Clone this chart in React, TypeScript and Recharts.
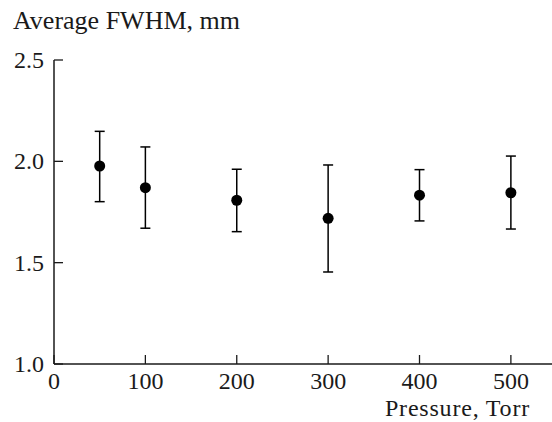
import { ScatterChart, Scatter, XAxis, YAxis, ErrorBar } from "recharts";

const pressures = [50, 100, 200, 300, 400, 500];
const fwhm = [1.977, 1.87, 1.808, 1.719, 1.833, 1.845];
const upper = [2.148, 2.071, 1.961, 1.982, 1.959, 2.026];
const lower = [1.801, 1.67, 1.653, 1.454, 1.706, 1.666];
const xTicks = [0, 100, 200, 300, 400, 500];
const yTicks = [1.0, 1.5, 2.0, 2.5];

const FONT = "'Liberation Serif', 'Times New Roman', serif";
const INK = "#1a1a1a";

const data = pressures.map((p, i) => ({
  p,
  v: fwhm[i],
  err: [fwhm[i] - lower[i], upper[i] - fwhm[i]],
}));

function YTick(props: any) {
  const { x, y, payload } = props;
  return (
    <g>
      <line x1={x} y1={y} x2={x + 9} y2={y} stroke={INK} strokeWidth={1.3} />
      <text
        x={x - 10}
        y={y + 8}
        textAnchor="end"
        fontFamily={FONT}
        fontSize={24}
        fill={INK}
      >
        {Number(payload.value).toFixed(1)}
      </text>
    </g>
  );
}

function XTick(props: any) {
  const { x, y, payload } = props;
  return (
    <g>
      <line x1={x} y1={y} x2={x} y2={y - 9} stroke={INK} strokeWidth={1.3} />
      <text
        x={x}
        y={y + 25}
        textAnchor="middle"
        fontFamily={FONT}
        fontSize={24}
        fill={INK}
      >
        {payload.value}
      </text>
    </g>
  );
}

function Dot(props: any) {
  const { cx, cy } = props;
  return <circle cx={cx} cy={cy} r={5.5} fill="#000" />;
}

export default function App() {
  return (
    <div
      style={{
        position: "absolute",
        left: 0,
        top: 0,
        width: 552,
        height: 422,
        background: "#fff",
        overflow: "hidden",
      }}
    >
      <div
        style={{
          position: "absolute",
          left: 13,
          top: 11,
          fontFamily: FONT,
          fontSize: 26,
          lineHeight: "20px",
          color: INK,
          whiteSpace: "nowrap",
        }}
      >
        Average FWHM, mm
      </div>
      <ScatterChart
        width={552}
        height={422}
        margin={{ top: 60, right: 0, bottom: 0, left: 0 }}
      >
        <XAxis
          type="number"
          dataKey="p"
          domain={[0, 545]}
          ticks={xTicks}
          height={58}
          tickSize={0}
          tickMargin={0}
          tickLine={false}
          tick={<XTick />}
          axisLine={{ stroke: INK, strokeWidth: 1.5 }}
          allowDataOverflow
          label={({ viewBox }: any) => (
            <text
              x={530}
              y={viewBox.y + 52}
              textAnchor="end"
              fontFamily={FONT}
              fontSize={24}
              letterSpacing={0.8}
              fill={INK}
            >
              Pressure, Torr
            </text>
          )}
        />
        <YAxis
          type="number"
          dataKey="v"
          domain={[1.0, 2.5]}
          ticks={yTicks}
          width={54}
          tickSize={0}
          tickMargin={0}
          tickLine={false}
          tick={<YTick />}
          axisLine={{ stroke: INK, strokeWidth: 1.5 }}
          allowDataOverflow
        />
        <Scatter data={data} shape={<Dot />} isAnimationActive={false}>
          <ErrorBar
            dataKey="err"
            direction="y"
            width={5}
            stroke="#000"
            strokeWidth={1.5}
            isAnimationActive={false}
          />
        </Scatter>
      </ScatterChart>
    </div>
  );
}
